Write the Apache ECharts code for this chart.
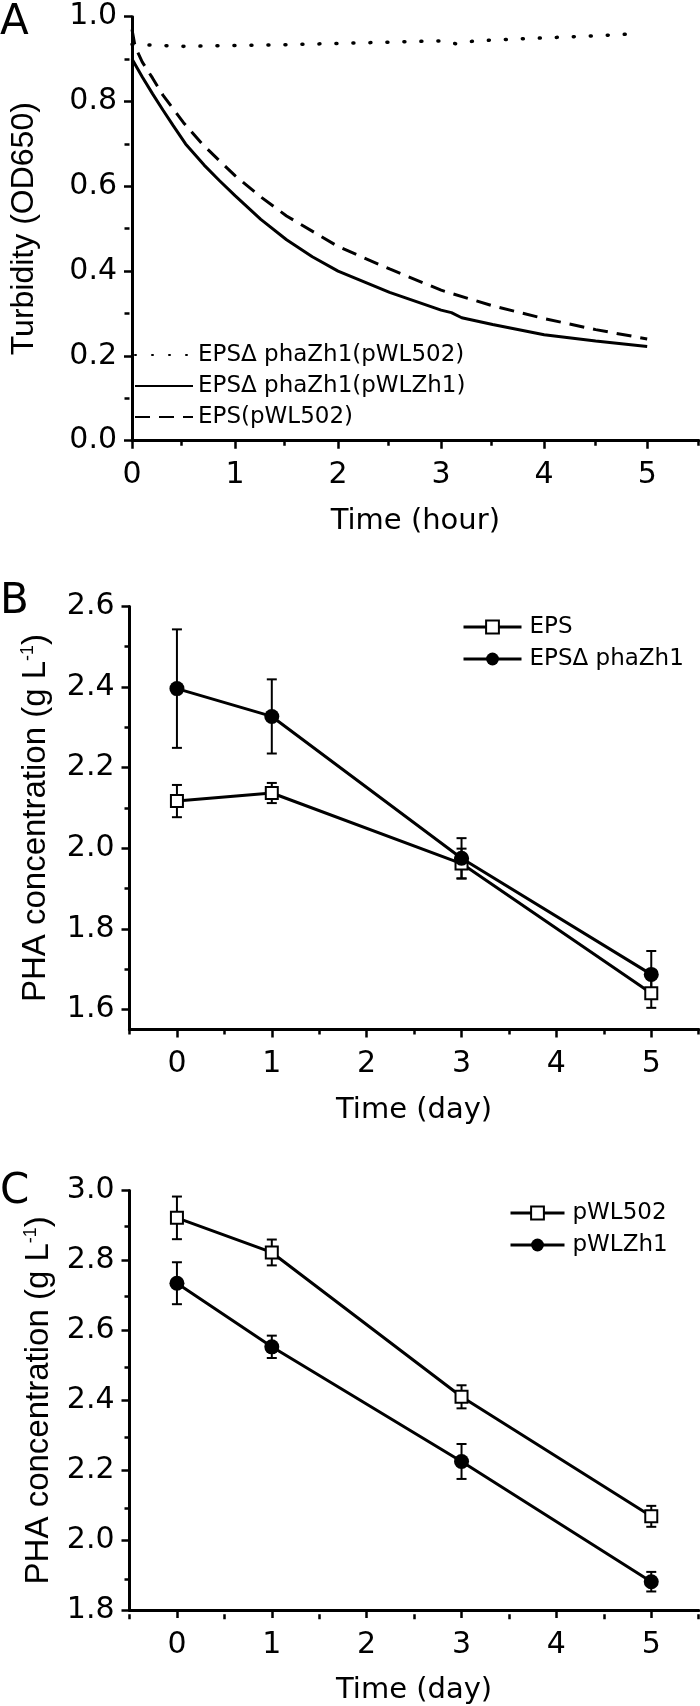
<!DOCTYPE html>
<html>
<head>
<meta charset="utf-8">
<title>Turbidity and PHA concentration</title>
<script src="https://cdn.jsdelivr.net/npm/echarts@6/dist/echarts.min.js"></script>
<style>
  html, body { margin: 0; padding: 0; background: #fff; }
  #chart { width: 700px; height: 1706px; }
</style>
</head>
<body>
<div id="chart"></div>
<script>
// the source figure is stretched sideways, so horizontal text uses the wider DejaVu face
const WIDE = '"DejaVu Sans", sans-serif';
const NARROW = '"Liberation Sans", Arial, sans-serif';

// ---- panel A: turbidity (OD650) over time (hour)
const hoursDotted = [0, 0.5, 1, 1.5, 2, 2.5, 3, 3.15, 3.3, 3.5, 4, 4.5, 4.9];
const turbDotted = [0.935, 0.93, 0.932, 0.934, 0.937, 0.94, 0.943, 0.936, 0.942, 0.945, 0.95, 0.955, 0.96];
const hoursSolid = [0, 0.1, 0.2, 0.3, 0.4, 0.52, 0.7, 0.85, 1, 1.25, 1.5, 1.75, 2, 2.5, 3, 3.1, 3.2, 3.5, 4, 4.5, 5];
const turbSolid = [0.9, 0.858, 0.818, 0.78, 0.743, 0.7, 0.65, 0.613, 0.578, 0.522, 0.474, 0.434, 0.4, 0.35, 0.308, 0.302, 0.29, 0.274, 0.25, 0.235, 0.222];
const hoursDashed = [0, 0.03, 0.1, 0.2, 0.3, 0.5, 0.68, 0.85, 1, 1.25, 1.5, 2, 2.5, 3, 3.5, 4, 4.5, 5];
const turbDashed = [0.97, 0.93, 0.893, 0.855, 0.815, 0.75, 0.7, 0.66, 0.625, 0.575, 0.53, 0.458, 0.405, 0.355, 0.318, 0.288, 0.262, 0.24];
const namesA = ['EPSΔ phaZh1(pWL502)', 'EPSΔ phaZh1(pWLZh1)', 'EPS(pWL502)'];
const xTicksA = [0, 1, 2, 3, 4, 5];
const xMinorA = [0.5, 1.5, 2.5, 3.5, 4.5, 5.5];
const yTicksA = [0, 0.2, 0.4, 0.6, 0.8, 1.0];
const yMinorA = [0.1, 0.3, 0.5, 0.7, 0.9];

// ---- panel B: PHA concentration, EPS vs EPSΔphaZh1
const days = [0, 1, 3, 5];
const epsB = [2.117, 2.137, 1.962, 1.64];
const epsBErr = [0.04, 0.025, 0.037, 0.036];
const deltaB = [2.396, 2.327, 1.975, 1.687];
const deltaBErr = [0.147, 0.092, 0.05, 0.058];
const namesB = ['EPS', 'EPSΔ phaZh1'];
const yTicksB = [1.6, 1.8, 2.0, 2.2, 2.4, 2.6];
const yMinorB = [1.7, 1.9, 2.1, 2.3, 2.5];

// ---- panel C: PHA concentration, pWL502 vs pWLZh1
const pwl502C = [2.922, 2.823, 2.41, 2.068];
const pwl502CErr = [0.061, 0.037, 0.033, 0.03];
const pwlzh1C = [2.735, 2.553, 2.225, 1.881];
const pwlzh1CErr = [0.06, 0.032, 0.05, 0.028];
const namesC = ['pWL502', 'pWLZh1'];
const yTicksC = [1.8, 2.0, 2.2, 2.4, 2.6, 2.8, 3.0];
const yMinorC = [1.9, 2.1, 2.3, 2.5, 2.7, 2.9];

const xTicksDay = [0, 1, 2, 3, 4, 5];
const xMinorDay = [-0.5, 0.5, 1.5, 2.5, 3.5, 4.5, 5.5];

const chart = echarts.init(document.getElementById('chart'), null, { renderer: 'canvas' });

const pairs = (xs, ys) => xs.map((x, i) => [x, ys[i]]);
const bars = (xs, ys, es) => xs.map((x, i) => [x, ys[i] - es[i], ys[i] + es[i]]);

// grids: 0 A, 1 A minor ticks, 2 B, 3 B minor, 4 C, 5 C minor
const gridRects = [
  { left: 129.5, top: 16.7, width: 569.2, height: 424 },
  { left: 129.5, top: 606.4, width: 569.2, height: 423.2 },
  { left: 129.5, top: 1190.6, width: 569.2, height: 423.6 },
];
const grids = [];
gridRects.forEach(r => { grids.push(r); grids.push(r); });

const tickText = { color: '#000', fontSize: 30, fontFamily: WIDE };

function majorX(gridIndex, min, max, ticks, name) {
  return {
    type: 'value', gridIndex, min, max, position: 'bottom',
    name, nameLocation: 'middle', nameGap: 66,
    nameTextStyle: { color: '#000', fontSize: 29, fontFamily: WIDE },
    axisLine: { show: true, onZero: false, lineStyle: { color: '#000', width: 3 } },
    axisTick: { show: true, length: 8, customValues: ticks, lineStyle: { color: '#000', width: 2.5 } },
    axisLabel: { show: true, margin: 20, customValues: ticks, formatter: v => String(v), ...tickText },
    splitLine: { show: false },
  };
}
function minorX(gridIndex, min, max, ticks) {
  return {
    type: 'value', gridIndex, min, max, position: 'bottom',
    axisLine: { show: false, onZero: false },
    axisTick: { show: true, length: 5, customValues: ticks, lineStyle: { color: '#000', width: 2.5 } },
    axisLabel: { show: false },
    splitLine: { show: false },
  };
}
function majorY(gridIndex, min, max, ticks, name, nameGap, nameSize) {
  return {
    type: 'value', gridIndex, min, max, position: 'left',
    name, nameLocation: 'middle', nameGap,
    nameTextStyle: {
      color: '#000', fontSize: nameSize, fontFamily: NARROW,
      rich: { sup: { fontSize: 18, fontFamily: NARROW, color: '#000', verticalAlign: 'top' } },
    },
    axisLine: { show: true, onZero: false, lineStyle: { color: '#000', width: 3 } },
    axisTick: { show: true, length: 8, customValues: ticks, lineStyle: { color: '#000', width: 2.5 } },
    axisLabel: { show: true, margin: 15, customValues: ticks, formatter: v => v.toFixed(1), ...tickText },
    splitLine: { show: false },
  };
}
function minorY(gridIndex, min, max, ticks) {
  return {
    type: 'value', gridIndex, min, max, position: 'left',
    axisLine: { show: false, onZero: false },
    axisTick: { show: true, length: 5, customValues: ticks, lineStyle: { color: '#000', width: 2.5 } },
    axisLabel: { show: false },
    splitLine: { show: false },
  };
}

function errorBarItem(params, api) {
  const x = api.value(0);
  const lo = api.coord([x, api.value(1)]);
  const hi = api.coord([x, api.value(2)]);
  const w = 5;
  const st = { stroke: '#000', lineWidth: 2 };
  return {
    type: 'group',
    children: [
      { type: 'line', shape: { x1: hi[0], y1: hi[1], x2: lo[0], y2: lo[1] }, style: st },
      { type: 'line', shape: { x1: hi[0] - w, y1: hi[1], x2: hi[0] + w, y2: hi[1] }, style: st },
      { type: 'line', shape: { x1: lo[0] - w, y1: lo[1], x2: lo[0] + w, y2: lo[1] }, style: st },
    ],
  };
}

function errSeries(idx, data) {
  return {
    type: 'custom', xAxisIndex: idx, yAxisIndex: idx, z: 1,
    renderItem: errorBarItem, data, silent: true,
    encode: { x: 0, y: [1, 2] },
  };
}
function squareSeries(idx, name, data) {
  return {
    type: 'line', name, xAxisIndex: idx, yAxisIndex: idx, z: 3, data,
    symbol: 'rect', symbolSize: 12,
    itemStyle: { color: '#fff', borderColor: '#000', borderWidth: 2 },
    lineStyle: { color: '#000', width: 3 },
  };
}
function circleSeries(idx, name, data) {
  return {
    type: 'line', name, xAxisIndex: idx, yAxisIndex: idx, z: 3, data,
    symbol: 'circle', symbolSize: 15,
    itemStyle: { color: '#000' },
    lineStyle: { color: '#000', width: 3 },
  };
}
function curveSeries(name, data, lineStyle) {
  return {
    type: 'line', name, xAxisIndex: 0, yAxisIndex: 0, data,
    symbol: 'none', itemStyle: { color: '#000' },
    lineStyle: { color: '#000', ...lineStyle },
  };
}

const legendText = { color: '#000', fontSize: 23, fontFamily: WIDE, lineHeight: 24 };
const letter = (text, top) => ({
  type: 'text', left: 0, top,
  style: { text, fontSize: 42, fontFamily: WIDE, fill: '#000' },
});

const option = {
  animation: false,
  backgroundColor: '#fff',
  grid: grids,
  xAxis: [
    majorX(0, 0, 5.5, xTicksA, 'Time (hour)'),
    minorX(1, 0, 5.5, xMinorA),
    majorX(2, -0.5, 5.5, xTicksDay, 'Time (day)'),
    minorX(3, -0.5, 5.5, xMinorDay),
    majorX(4, -0.5, 5.5, xTicksDay, 'Time (day)'),
    minorX(5, -0.5, 5.5, xMinorDay),
  ],
  yAxis: [
    majorY(0, 0, 1, yTicksA, 'Turbidity (OD650)', 92, 32),
    minorY(1, 0, 1, yMinorA),
    majorY(2, 1.55, 2.6, yTicksB, 'PHA concentration (g L{sup|-1})', 77, 33),
    minorY(3, 1.55, 2.6, yMinorB),
    majorY(4, 1.8, 3.0, yTicksC, 'PHA concentration (g L{sup|-1})', 74, 33),
    minorY(5, 1.8, 3.0, yMinorC),
  ],
  legend: [
    {
      data: namesA, orient: 'vertical', left: 134, top: 343,
      itemWidth: 58, itemHeight: 14, itemGap: 7, padding: 0,
      textStyle: legendText, selectedMode: false,
      lineStyle: { color: '#000' },
      itemStyle: { color: 'rgba(0,0,0,0)', borderColor: 'rgba(0,0,0,0)', borderWidth: 0 },
    },
    {
      data: namesB, orient: 'vertical', left: 462, top: 615,
      itemWidth: 58, itemHeight: 16, itemGap: 8, padding: 0,
      textStyle: { ...legendText, padding: [0, 0, 0, 3] }, selectedMode: false,
      lineStyle: { color: '#000', width: 3 },
    },
    {
      data: namesC, orient: 'vertical', left: 509, top: 1201,
      itemWidth: 54, itemHeight: 16, itemGap: 8, padding: 0,
      textStyle: { ...legendText, padding: [0, 0, 0, 3] }, selectedMode: false,
      lineStyle: { color: '#000', width: 3 },
    },
  ],
  graphic: [letter('A', 2), letter('B', 581), letter('C', 1171)],
  series: [
    curveSeries(namesA[0], pairs(hoursDotted, turbDotted), { width: 3.5, type: [1, 16], cap: 'round' }),
    curveSeries(namesA[1], pairs(hoursSolid, turbSolid), { width: 3 }),
    curveSeries(namesA[2], pairs(hoursDashed, turbDashed), { width: 3, type: [15, 9] }),
    errSeries(2, bars(days, epsB, epsBErr)),
    errSeries(2, bars(days, deltaB, deltaBErr)),
    squareSeries(2, namesB[0], pairs(days, epsB)),
    circleSeries(2, namesB[1], pairs(days, deltaB)),
    errSeries(4, bars(days, pwl502C, pwl502CErr)),
    errSeries(4, bars(days, pwlzh1C, pwlzh1CErr)),
    squareSeries(4, namesC[0], pairs(days, pwl502C)),
    circleSeries(4, namesC[1], pairs(days, pwlzh1C)),
  ],
};

chart.setOption(option);
</script>
</body>
</html>
